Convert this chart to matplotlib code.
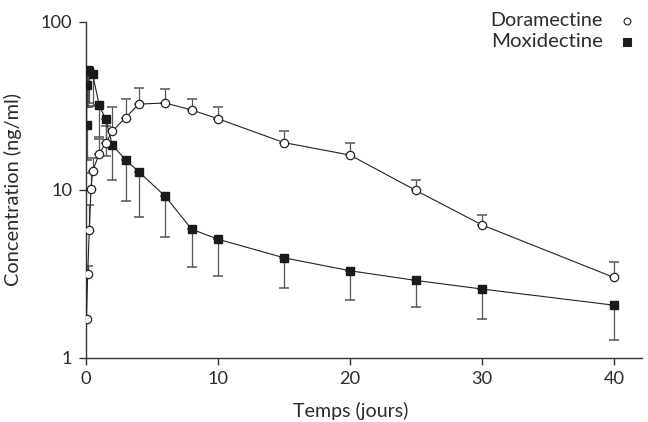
import matplotlib.pyplot as plt
from matplotlib.lines import Line2D

# temps (jours) et concentrations
t_dora = [0.04, 0.125, 0.25, 0.375, 0.5, 1, 1.5, 2, 3, 4, 6, 8, 10, 15, 20, 25, 30, 40]
c_dora = [1.70, 3.13, 5.73, 10.1, 12.9, 16.4, 19.0, 22.4, 26.9, 32.4, 32.9, 29.9, 26.5,
          19.1, 16.1, 9.9, 6.17, 3.0]
c_dora_hi = [1.70, 3.52, 8.08, 12.5, 15.5, 20.0, 24.0, 31.0, 34.9, 40.4, 39.6, 34.9, 31.0,
             22.3, 19.0, 11.5, 7.1, 3.7]

t_moxi = [0.04, 0.08, 0.125, 0.25, 0.5, 1, 1.5, 2, 3, 4, 6, 8, 10, 15, 20, 25, 30, 40]
c_moxi = [24.3, 42.3, 51.4, 51.0, 49.2, 31.8, 26.3, 18.4, 15.1, 12.8, 9.15, 5.82, 5.07,
          3.93, 3.29, 2.88, 2.56, 2.05]
c_moxi_lo = [15.0, 31.0, 31.0, 33.0, 31.7, 20.6, 15.8, 11.4, 8.6, 6.9, 5.25, 3.47, 3.06,
             2.6, 2.19, 1.99, 1.70, 1.27]

y_ticks = [1, 10, 100]
x_ticks = [0, 10, 20, 30, 40]
labels = ['Doramectine', 'Moxidectine']

plt.rcParams['font.family'] = ['Lato', 'DejaVu Sans']
txt = '#2b2b2b'
W, H = 648, 422

fig = plt.figure(figsize=(W / 100, H / 100), dpi=100)
ax = fig.add_axes([86 / W, 1 - 357.5 / H, (641.7 - 86) / W, (357.5 - 22) / H])

# barres d'erreur (un seul côté)
err_d = [[0] * len(c_dora), [h - c for h, c in zip(c_dora_hi, c_dora)]]
err_m = [[c - l for c, l in zip(c_moxi, c_moxi_lo)], [0] * len(c_moxi)]
ax.errorbar(t_moxi, c_moxi, yerr=err_m, fmt='none', ecolor='#555555', elinewidth=0.9,
            capsize=3.4, capthick=1.1, zorder=2)
ax.errorbar(t_dora, c_dora, yerr=err_d, fmt='none', ecolor='#555555', elinewidth=0.9,
            capsize=3.4, capthick=1.1, zorder=2)

ax.plot(t_moxi, c_moxi, '-', color='#222222', lw=0.8, marker='s', ms=6.3,
        mfc='#1a1a1a', mec='#1a1a1a', zorder=3)
ax.plot(t_dora, c_dora, '-', color='#222222', lw=0.8, marker='o', ms=6,
        mfc='white', mec='#222222', mew=0.9, zorder=4)

ax.set_yscale('log')
ax.set_ylim(1, 100)
ax.set_xlim(0, 42.1)
ax.set_yticks(y_ticks)
ax.set_yticklabels([str(v) for v in y_ticks])
ax.minorticks_off()
ax.set_xticks(x_ticks)

for s in ['top', 'right']:
    ax.spines[s].set_visible(False)
for s in ['left', 'bottom']:
    ax.spines[s].set_color('#333333')
    ax.spines[s].set_linewidth(1)
ax.tick_params(colors='#333333', labelcolor=txt, labelsize=14, length=4.7, width=1, pad=5)

xl = ax.set_xlabel('Temps (jours)', fontsize=14, color=txt)
ax.xaxis.set_label_coords((351 - 86) / 555.7, -0.133)
yl = ax.set_ylabel('Concentration (ng/ml)', fontsize=14, color=txt)
ax.yaxis.set_label_coords(-0.115, 0.5)

# légende faite à la main : texte à gauche, symbole à droite
leg_txt = []
for i, (lab, m, fc) in enumerate(zip(labels, ['o', 's'], ['white', '#1a1a1a'])):
    y = 1 - (21 + 20.5 * i) / H
    leg_txt.append(fig.text(603 / W, y, lab, ha='right', va='center', fontsize=14, color=txt))
    fig.add_artist(Line2D([627 / W], [y], transform=fig.transFigure, ls='none', marker=m,
                          ms=4.9 if m == 'o' else 5.3, mfc=fc, mec='#222222', mew=0.8))

# ajuste les tailles de police aux largeurs mesurées sur l'original
r = fig.canvas.get_renderer()
def fit(t, px, vertical=False):
    bb = t.get_window_extent(r)
    t.set_fontsize(t.get_fontsize() * px / (bb.height if vertical else bb.width))

fit(xl, 116)
fit(yl, 194, vertical=True)
for t in leg_txt:
    fit(t, 112)
fig.canvas.draw()
lab100 = [t for t in ax.get_yticklabels() if t.get_text() == '100'][0]
bb = lab100.get_window_extent(r)
ax.tick_params(labelsize=14 * 32 / bb.width)

fig.savefig('out.png', dpi=100)
